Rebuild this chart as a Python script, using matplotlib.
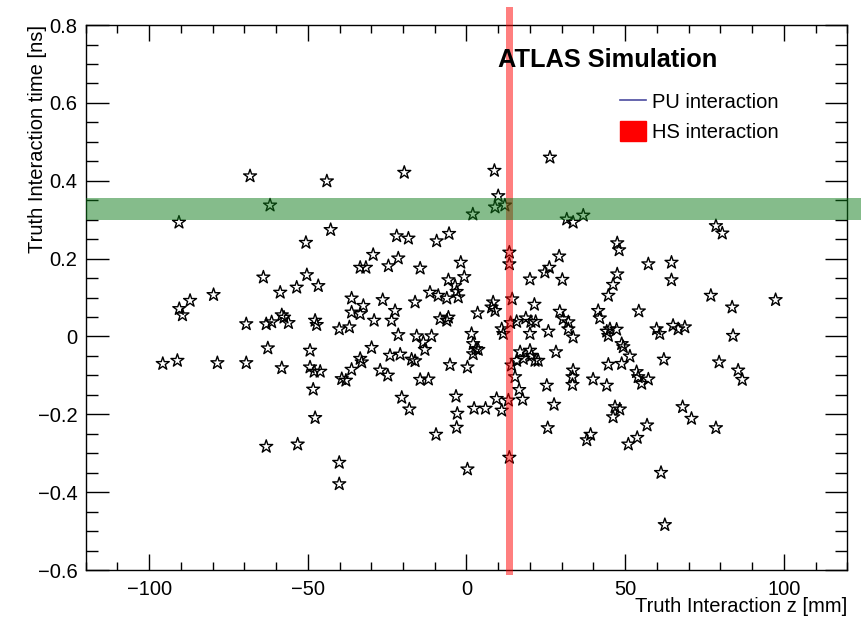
import numpy as np
import matplotlib
matplotlib.use("Agg")
import matplotlib.pyplot as plt
from matplotlib.lines import Line2D
from matplotlib.patches import Patch
from matplotlib.ticker import MultipleLocator, FuncFormatter

plt.rcParams['font.family'] = ['Liberation Sans', 'DejaVu Sans']

# ------------------------------------------------------------
# pile-up vertices: z [mm], t [ns]
z_pu = [-68.2, -44.0, -61.9, -90.6, -42.8, -50.6, -64.0, -50.3, -58.7, -53.5,
        -46.7, -79.7, -87.1, -90.5, -89.5, -69.4, -63.1, -61.4, -58.2, -57.5,
        -56.1, -47.7, -47.2, -40.1, -36.9, -36.2, -36.2,
        -95.7, -91.1, -78.5, -69.4, -62.6, -58.2, -49.3, -49.3, -48.0, -46.1,
        -48.3, -47.7, -63.1, -53.2, -40.1, -40.1, -39.3, -38.0, -36.2,
        -19.6, 8.8, 26.3, 10.0, 9.0, 12.1, 2.0, -22.0, -18.3, -9.4,
        -5.5, 13.5, 13.5, -29.4, -21.5, -24.6, -33.5, -31.7, -14.6, -1.8,
        -0.7, -5.7, -3.6, -3.1, -11.5, -8.9, -6.2, -2.6, -16.2, -26.4,
        -32.5, -33.5, -22.5, -23.6, -29.1, -8.3, -6.2, -5.7, 3.5, 8.4,
        7.9, 9.0, 14.4, 20.0, 24.7, 26.1, 29.2, 30.2, 21.4, 15.8,
        18.7, 20.3, 21.8, 29.4, 30.5, 32.1, 11.1, 25.8, 13.9,
        -21.5, -15.7, -11.0, -13.6, -13.1, -29.9, -33.5, -33.0, -24.1, -20.9,
        -17.3, -16.2, -27.2, -24.8, -14.6, -12.0, -20.4, -18.0, -5.2, 0.3,
        1.6, 2.1, 3.0, 2.1, 3.7, 11.6, -3.3, -2.9, -3.1, -9.6,
        2.4, 6.0, 9.5, 11.1, 13.2, 13.5, 0.3, 14.2, 15.3, 16.6,
        17.7, 16.9, 17.9, 20.0, 20.5, 21.6, 22.6, 15.8, 20.0, 28.2,
        25.3, 27.6, 25.6,
        31.6, 33.6, 36.8, 78.6, 80.6, 47.5, 48.1, 57.3, 64.6, 64.6,
        47.5, 46.2, 44.7, 77.0, 83.7, 97.4, 41.5, 42.0, 54.3, 32.1,
        44.2, 45.2, 47.3, 59.9, 60.9, 65.1, 66.7, 68.8, 84.0,
        33.6, 44.7, 48.9, 49.4, 51.5, 48.9, 44.7, 62.2, 79.6, 85.6,
        86.9, 33.6, 33.4, 33.4, 39.9, 44.2, 53.6, 54.1, 55.2, 57.3,
        68.1, 70.9, 78.6, 46.8, 48.3, 46.2, 56.9, 53.8, 51.0, 39.1,
        37.9, 61.3, 62.5]
t_pu = [0.412, 0.399, 0.337, 0.293, 0.274, 0.241, 0.152, 0.158, 0.113, 0.126,
        0.130, 0.107, 0.092, 0.071, 0.055, 0.032, 0.032, 0.037, 0.055, 0.049,
        0.035, 0.041, 0.030, 0.019, 0.024, 0.098, 0.062,
        -0.070, -0.062, -0.068, -0.068, -0.030, -0.081, -0.036, -0.079, -0.090, -0.090,
        -0.136, -0.209, -0.283, -0.277, -0.324, -0.379, -0.109, -0.113, -0.085,
        0.421, 0.426, 0.460, 0.361, 0.332, 0.337, 0.314, 0.258, 0.252, 0.245,
        0.264, 0.216, 0.186, 0.210, 0.201, 0.181, 0.177, 0.177, 0.175, 0.190,
        0.153, 0.145, 0.130, 0.115, 0.113, 0.105, 0.098, 0.101, 0.088, 0.094,
        0.079, 0.058, 0.066, 0.041, 0.041, 0.045, 0.041, 0.049, 0.060, 0.088,
        0.075, 0.066, 0.096, 0.147, 0.165, 0.177, 0.206, 0.146, 0.082, 0.038,
        0.047, 0.038, 0.038, 0.064, 0.045, 0.037, 0.019, 0.013, 0.035,
        0.004, 0.001, 0.001, -0.015, -0.034, -0.029, -0.057, -0.066, -0.049, -0.046,
        -0.059, -0.063, -0.087, -0.100, -0.111, -0.110, -0.157, -0.187, -0.073, -0.079,
        0.007, -0.019, -0.032, -0.045, -0.034, 0.007, -0.154, -0.198, -0.234, -0.252,
        -0.185, -0.185, -0.160, -0.190, -0.164, -0.311, -0.341, -0.074, -0.104, -0.137,
        -0.162, -0.040, -0.057, -0.036, -0.049, -0.062, -0.062, -0.062, 0.007, -0.040,
        -0.126, -0.175, -0.235,
        0.301, 0.293, 0.311, 0.284, 0.265, 0.240, 0.222, 0.186, 0.190, 0.145,
        0.160, 0.133, 0.105, 0.105, 0.075, 0.094, 0.066, 0.047, 0.065, 0.019,
        0.013, 0.019, 0.018, 0.019, 0.007, 0.028, 0.019, 0.024, 0.002,
        -0.002, 0.002, -0.019, -0.027, -0.051, -0.070, -0.072, -0.059, -0.066, -0.087,
        -0.111, -0.087, -0.104, -0.124, -0.110, -0.126, -0.091, -0.104, -0.121, -0.110,
        -0.181, -0.211, -0.235, -0.181, -0.187, -0.207, -0.228, -0.260, -0.277, -0.252,
        -0.266, -0.350, -0.484]

# hard-scatter vertex and band half-widths
hs_z = 13.6
hs_z_halfwidth = 1.2
hs_t_low, hs_t_high = 0.300, 0.355

# ------------------------------------------------------------
fig = plt.figure(figsize=(8.61, 6.2), dpi=100)
ax = fig.add_axes([0.0995, 0.0806, 0.8846, 0.8790])

ax.scatter(z_pu, t_pu, marker='*', s=96, facecolors='none',
           edgecolors='black', linewidths=1.0, zorder=2)

# HS bands drawn on top, running past the frame like in ROOT
ax.axvspan(hs_z - hs_z_halfwidth, hs_z + hs_z_halfwidth, ymin=-0.009, ymax=1.033,
           color='red', alpha=0.5, lw=0, clip_on=False, zorder=3)
ax.axhspan(hs_t_low, hs_t_high, xmin=0, xmax=1.018,
           color='#0d7a18', alpha=0.5, lw=0, clip_on=False, zorder=3)

ax.set_xlim(-120, 120)
ax.set_ylim(-0.6, 0.8)

ax.xaxis.set_major_locator(MultipleLocator(50))
ax.xaxis.set_minor_locator(MultipleLocator(10))
ax.yaxis.set_major_locator(MultipleLocator(0.2))
ax.yaxis.set_minor_locator(MultipleLocator(0.05))
fmt = FuncFormatter(lambda v, _: ('%g' % (round(v, 6) + 0.0)).replace('-', '\u2212'))
ax.xaxis.set_major_formatter(fmt)
ax.yaxis.set_major_formatter(fmt)

ax.tick_params(which='both', direction='in', top=True, right=True,
               labelsize=14.5, width=1.0, colors='black')
ax.tick_params(axis='x', which='major', length=11.5, pad=7)
ax.tick_params(axis='x', which='minor', length=5.8)
ax.tick_params(axis='y', which='major', length=16.2, pad=6)
ax.tick_params(axis='y', which='minor', length=8.4)
for sp in ax.spines.values():
    sp.set_linewidth(1.0)

ax.set_xlabel('Truth Interaction z [mm]', fontsize=14.5, loc='right')
ax.xaxis.set_label_coords(1.0, -0.0495)
ax.set_ylabel('Truth Interaction time [ns]', fontsize=14.5, loc='top')
ax.yaxis.set_label_coords(-0.0508, 1.0)

ax.text(0.5414, 0.9235, 'ATLAS Simulation', transform=ax.transAxes,
        fontsize=18.3, fontweight='bold', va='baseline', ha='left')

handles = [Line2D([], [], color='#4b4ba0', lw=1.2),
           Patch(facecolor='red', edgecolor='red')]
ax.legend(handles, ['PU interaction', 'HS interaction'],
          loc='upper left', bbox_to_anchor=(0.7197, 0.853),
          bbox_transform=fig.transFigure, frameon=False, fontsize=14.5,
          handlelength=1.3, handleheight=1.15, handletextpad=0.3,
          labelspacing=0.45, borderpad=0, borderaxespad=0)

fig.savefig('out.png', dpi=100)
